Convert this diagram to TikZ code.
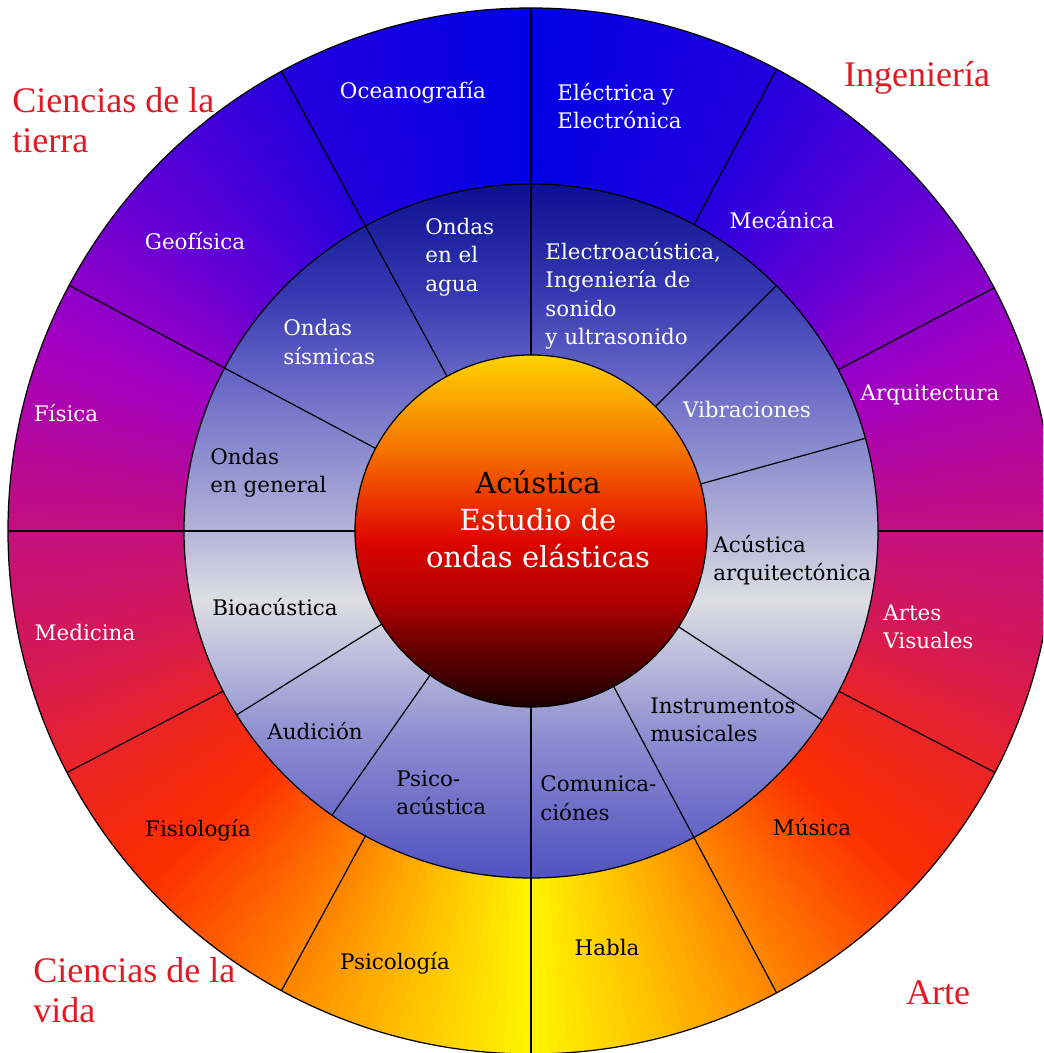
\documentclass[tikz,border=0pt]{standalone}
\usepackage{fontspec}
\setmainfont{DejaVu Serif}
\newfontfamily\fieldfont{Liberation Serif}
\usepackage{xcolor}
\usepackage{tikz}
\usetikzlibrary{calc}

\definecolor{fieldred}{RGB}{222,26,36}
\definecolor{o0}{RGB}{0,0,228}
\definecolor{o1}{RGB}{35,0,222}
\definecolor{o2}{RGB}{100,0,212}
\definecolor{o3}{RGB}{162,0,195}
\definecolor{o4}{RGB}{195,15,125}
\definecolor{o5}{RGB}{212,25,85}
\definecolor{o6}{RGB}{238,38,30}
\definecolor{o7}{RGB}{252,45,0}
\definecolor{o8}{RGB}{255,125,0}
\definecolor{o9}{RGB}{255,190,0}
\definecolor{o10}{RGB}{255,245,0}
\definecolor{m0}{RGB}{80,82,192}
\definecolor{m1}{RGB}{140,140,208}
\definecolor{m2}{RGB}{222,222,228}
\definecolor{m3}{RGB}{180,180,216}
\definecolor{m4}{RGB}{110,110,200}
\definecolor{m5}{RGB}{55,58,178}
\definecolor{m6}{RGB}{12,16,145}
\definecolor{c0}{RGB}{25,0,0}
\definecolor{c1}{RGB}{100,0,0}
\definecolor{c2}{RGB}{175,0,0}
\definecolor{c3}{RGB}{220,5,0}
\definecolor{c4}{RGB}{235,50,0}
\definecolor{c5}{RGB}{245,110,0}
\definecolor{c6}{RGB}{250,165,0}
\definecolor{c7}{RGB}{255,210,0}
\pgfdeclareverticalshading{midring}{100bp}{color(0bp)=(m0); color(25bp)=(m0); color(35bp)=(m1); color(45bp)=(m2); color(50bp)=(m3); color(60bp)=(m4); color(67bp)=(m5); color(75bp)=(m6); color(100bp)=(m6)}
\pgfdeclareverticalshading{coreshade}{100bp}{color(0bp)=(c0); color(25bp)=(c0); color(33bp)=(c1); color(40bp)=(c2); color(48.5bp)=(c3); color(54bp)=(c4); color(61bp)=(c5); color(68.5bp)=(c6); color(75bp)=(c7); color(100bp)=(c7)}

\tikzset{
  ringtext/.style={font=\fontsize{12.2}{16.2}\selectfont, text=white, align=left, inner sep=0pt},
  darktext/.style={ringtext, text=black},
  fieldtext/.style={font=\fieldfont\fontsize{20.5}{22.7}\selectfont, text=fieldred, align=left, inner sep=0pt},
  spoke/.style={line width=0.7pt}
}

\begin{document}
\begin{tikzpicture}[x=0.02cm,y=0.02cm]
  \useasboundingbox (-531,-522) rectangle (512,531);
  \clip (-531,-522) rectangle (512,531);
  \foreach \ta/\tb/\ca/\cb in {0/28/o0/o1,28/50/o1/o2,50/68/o2/o3,68/90/o3/o4,90/105/o4/o5,105/120/o5/o6,120/132/o6/o7,132/150/o7/o8,150/165/o8/o9,165/180/o9/o10}{
    \pgfmathtruncatemacro{\tend}{\tb-1}
    \foreach \t in {\ta,...,\tend}{
      \pgfmathtruncatemacro{\p}{100*(\t+0.5-\ta)/(\tb-\ta)}
      \colorlet{seg}{\cb!\p!\ca}
      \fill[seg] (0,0) -- (90+\t:523) arc[start angle=90+\t, delta angle=1.3, radius=523] -- cycle;
      \fill[seg] (0,0) -- (90-\t:523) arc[start angle=90-\t, delta angle=-1.3, radius=523] -- cycle;
    }
  }
  \shade[shading=midring] (0,0) circle[radius=347];
  \shade[shading=coreshade] (0,0) circle[radius=176];
  \foreach \a in {90,118.5,152,180,270,298}{ \draw[spoke] (\a:176) -- (\a:523); }
  \foreach \a in {0,27.7,62,207.5,241.5,332.5}{ \draw[spoke] (\a:347) -- (\a:523); }
  \foreach \a in {15.5,45,212,235,327}{ \draw[spoke] (\a:176) -- (\a:347); }
  \foreach \r in {176,347,523}{ \draw[spoke] (0,0) circle[radius=\r]; }

  \node[ringtext] (ocean) at (-118,439) {Oceanografía};
  \node[ringtext,anchor=west] (electrica) at (26,425) {Eléctrica y\\Electrónica};
  \node[ringtext] (mecanica) at (251,311) {Mecánica};
  \node[ringtext] (geofisica) at (-336,290) {Geofísica};
  \node[ringtext] (fisica) at (-465,118) {Física};
  \node[ringtext] (arquitectura) at (399,136) {Arquitectura};
  \node[ringtext] (medicina) at (-446,-102) {Medicina};
  \node[ringtext,anchor=west] (artes) at (352,-96) {Artes\\Visuales};
  \node[darktext] (fisiologia) at (-333,-299) {Fisiología};
  \node[darktext] (musica) at (281,-296) {Música};
  \node[darktext] (psicologia) at (-136,-432) {Psicología};
  \node[darktext] (habla) at (76,-417) {Habla};

  \node[ringtext,anchor=west] (agua) at (-106,274) {Ondas\\en el\\agua};
  \node[ringtext,anchor=west] (electroac) at (14,235) {Electroacústica,\\Ingeniería de\\sonido\\y ultrasonido};
  \node[ringtext,anchor=west] (sismicas) at (-248,189) {Ondas\\sísmicas};
  \node[ringtext] (vibraciones) at (216,121) {Vibraciones};
  \node[darktext,anchor=west] (general) at (-321,58) {Ondas\\en general};
  \node[darktext,anchor=west] (acarq) at (182,-29) {Acústica\\arquitectónica};
  \node[darktext] (bioac) at (-256,-76) {Bioacústica};
  \node[darktext] (audicion) at (-216,-200) {Audición};
  \node[darktext,anchor=west] (instrumentos) at (119,-189) {Instrumentos\\musicales};
  \node[darktext,anchor=west] (psicoac) at (-135,-262) {Psico-\\acústica};
  \node[darktext,anchor=west] (comunic) at (9,-267) {Comunica-\\ciónes};

  \node[font=\fontsize{16.5}{21}\selectfont, text=white, align=center, inner sep=0pt] (core) at (7,12) {\textcolor{black}{Acústica}\\Estudio de\\ondas elásticas};

  \node[fieldtext,anchor=west] (tierra) at (-519,411) {Ciencias de la\\tierra};
  \node[fieldtext] (ingenieria) at (386,453) {Ingeniería};
  \node[fieldtext,anchor=west] (vida) at (-498,-459) {Ciencias de la\\vida};
  \node[fieldtext] (arte) at (407,-462) {Arte};
\end{tikzpicture}
\end{document}
